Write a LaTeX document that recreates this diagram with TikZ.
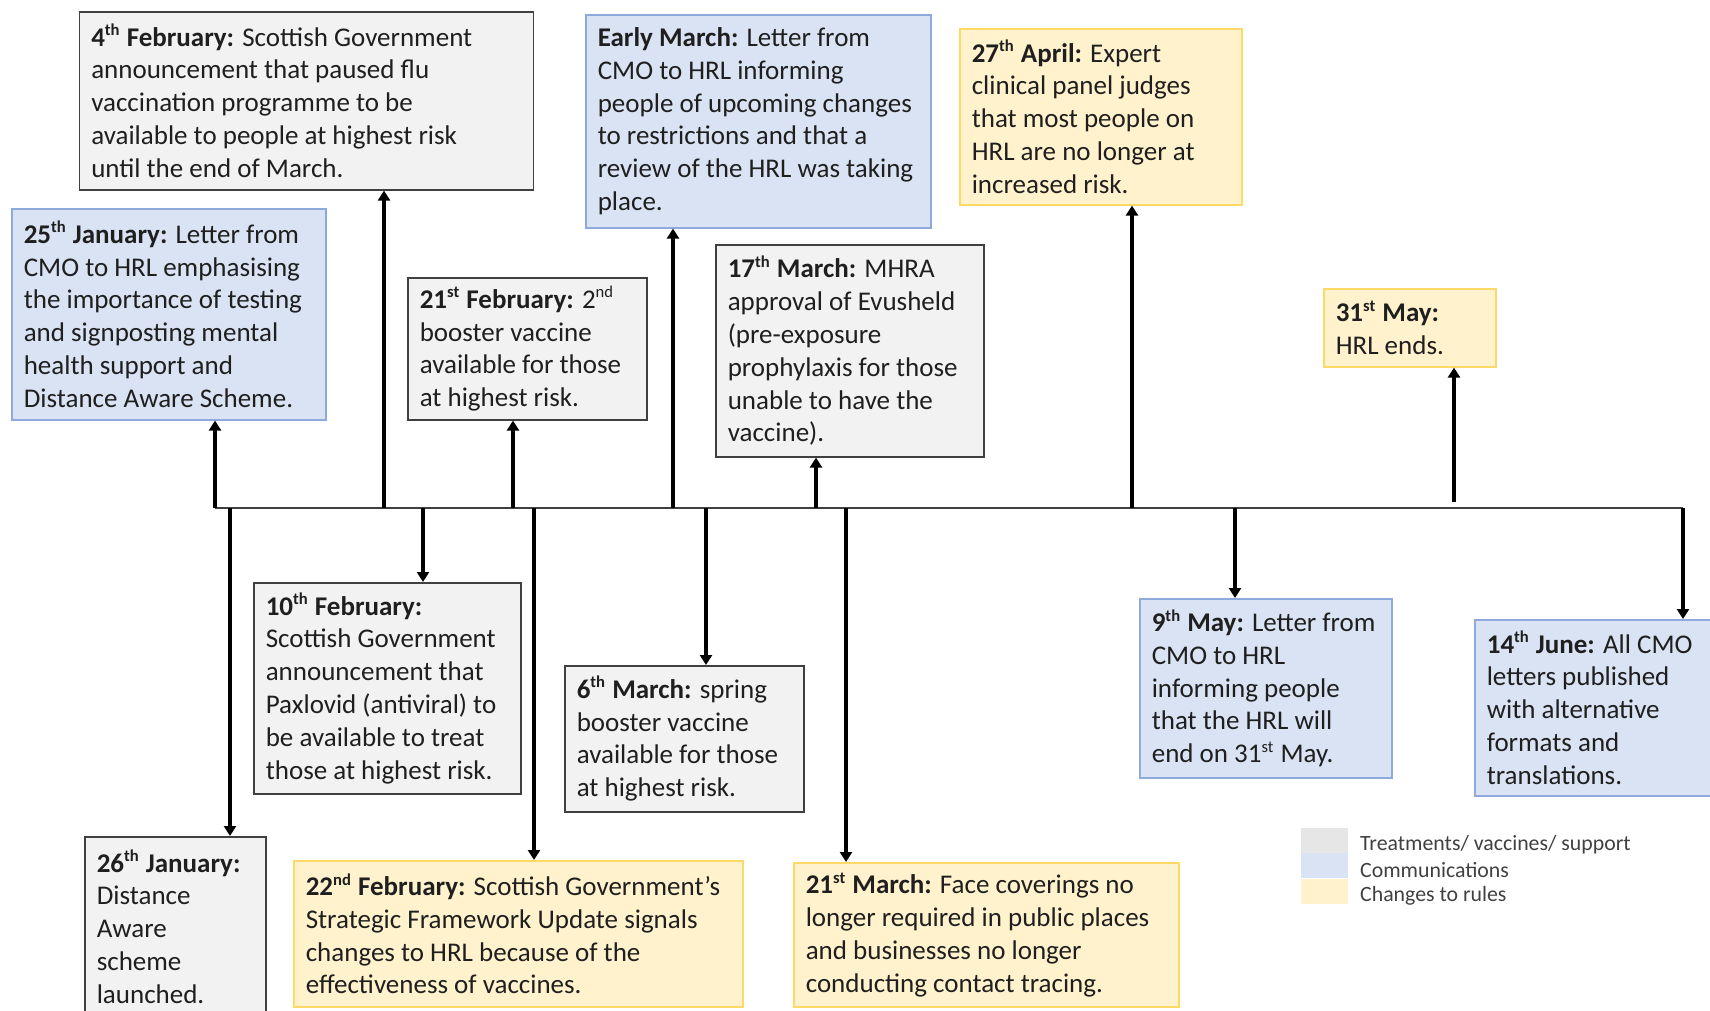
\documentclass[tikz,border=0pt]{standalone}
\usepackage{fontspec}
\setmainfont{Carlito}
\usetikzlibrary{arrows.meta,positioning}
\definecolor{greyfill}{HTML}{F2F2F2}
\definecolor{greyline}{HTML}{404040}
\definecolor{bluefill}{HTML}{DAE3F3}
\definecolor{blueline}{HTML}{8EA9DB}
\definecolor{yellowfill}{HTML}{FFF2CC}
\definecolor{yellowline}{HTML}{FFD966}
\definecolor{legendgrey}{HTML}{E7E6E6}
\definecolor{legendtext}{HTML}{404040}
\newcommand{\sups}[1]{\textsuperscript{\fontsize{8.3}{8.3}\selectfont #1}}

\begin{document}
\begin{tikzpicture}[x=0.5pt,y=-0.5pt,
    event/.style={anchor=north west, align=flush left, inner xsep=6pt, inner ysep=3pt, font=\fontsize{13.5}{16.4}\selectfont, text=black!88},
    treat/.style={event, draw=greyline, fill=greyfill, line width=0.8pt},
    comms/.style={event, draw=blueline, fill=bluefill, line width=0.8pt},
    rules/.style={event, draw=yellowline, fill=yellowfill, line width=0.8pt},
    evarrow/.style={line width=1.6pt, -{Triangle[length=5pt,width=6pt]}},
    swatch/.style={anchor=north west, minimum width=23.5pt, minimum height=12.5pt, inner sep=0pt},
    key/.style={font=\fontsize{10.9}{13}\selectfont, text=legendtext, inner sep=0pt, yshift=-2pt}]
    \useasboundingbox (0,0) rectangle (1710,1011);

% above the line
\node[comms, text width=145pt, minimum height=105.5pt] (jan25) at (11,208) {\textbf{25\sups{th} January:} Letter from\\CMO to HRL emphasising\\the importance of testing\\and signposting mental\\health support and\\Distance Aware Scheme.};
\node[treat, text width=215pt, minimum height=89pt] (feb4) at (78.5,11) {\textbf{4\sups{th} February:} Scottish Government\\announcement that paused flu\\vaccination programme to be\\available to people at highest risk\\until the end of March.};
\node[treat, text width=107.5pt, minimum height=71pt] (feb21) at (407,277) {\textbf{21\sups{st} February:} 2\sups{nd}\\booster vaccine\\available for those\\at highest risk.};
\node[comms, text width=160.5pt, minimum height=106.5pt] (earlymar) at (585,14) {\textbf{Early March:} Letter from\\CMO to HRL informing\\people of upcoming changes\\to restrictions and that a\\review of the HRL was taking\\place.};
\node[treat, text width=122pt, minimum height=106pt] (mar17) at (715,244) {\textbf{17\sups{th} March:} MHRA\\approval of Evusheld\\(pre-exposure\\prophylaxis for those\\unable to have the\\vaccine).};
\node[rules, text width=129pt, minimum height=88pt] (apr27) at (959,28) {\textbf{27\sups{th} April:} Expert\\clinical panel judges\\that most people on\\HRL are no longer at\\increased risk.};
\node[rules, text width=74pt, minimum height=39pt] (may31) at (1323,288) {\textbf{31\sups{st} May:}\\HRL ends.};

% below the line
\node[treat, text width=78.5pt, minimum height=90pt] (jan26) at (84,836) {\textbf{26\sups{th} January:}\\Distance\\Aware\\scheme\\launched.};
\node[treat, text width=121.5pt, minimum height=105.5pt] (feb10) at (253,582) {\textbf{10\sups{th} February:}\\Scottish Government\\announcement that\\Paxlovid (antiviral) to\\be available to treat\\those at highest risk.};
\node[rules, text width=212.5pt, minimum height=73pt] (feb22) at (293,860) {\textbf{22\sups{nd} February:} Scottish Government's\\Strategic Framework Update signals\\changes to HRL because of the\\effectiveness of vaccines.};
\node[treat, text width=107.5pt, minimum height=73pt] (mar6) at (564,665) {\textbf{6\sups{th} March:} spring\\booster vaccine\\available for those\\at highest risk.};
\node[rules, text width=180.5pt, minimum height=72pt] (mar21) at (793,862) {\textbf{21\sups{st} March:} Face coverings no\\longer required in public places\\and businesses no longer\\conducting contact tracing.};
\node[comms, text width=114pt, minimum height=89.5pt] (may9) at (1139,598) {\textbf{9\sups{th} May:} Letter from\\CMO to HRL\\informing people\\that the HRL will\\end on 31\sups{st} May.};
\node[comms, text width=108pt, minimum height=88pt] (jun14) at (1474,619) {\textbf{14\sups{th} June:} All CMO\\letters published\\with alternative\\formats and\\translations.};

% timeline
\coordinate (tl) at (215,508);
\coordinate (tr) at (1683,508);
\draw[greyline, line width=0.9pt] (tl) -- (tr);

\coordinate (t-jan25) at (215,508);
\coordinate (t-feb4) at (384,508);
\coordinate (t-feb21) at (513,508);
\coordinate (t-earlymar) at (673,508);
\coordinate (t-mar17) at (816,508);
\coordinate (t-apr27) at (1132,508);
\coordinate (t-may31) at (1454,502);
\coordinate (t-jan26) at (230,508);
\coordinate (t-feb10) at (423,508);
\coordinate (t-feb22) at (534,508);
\coordinate (t-mar6) at (706,508);
\coordinate (t-mar21) at (846,508);
\coordinate (t-may9) at (1235,508);
\coordinate (t-jun14) at (1683,508);

\draw[evarrow] (t-jan25) -- (t-jan25 |- jan25.south);
\draw[evarrow] (t-feb4) -- (t-feb4 |- feb4.south);
\draw[evarrow] (t-feb21) -- (t-feb21 |- feb21.south);
\draw[evarrow] (t-earlymar) -- (t-earlymar |- earlymar.south);
\draw[evarrow] (t-mar17) -- (t-mar17 |- mar17.south);
\draw[evarrow] (t-apr27) -- (t-apr27 |- apr27.south);
\draw[evarrow] (t-may31) -- (t-may31 |- may31.south);

\draw[evarrow] (t-jan26) -- (t-jan26 |- jan26.north);
\draw[evarrow] (t-feb10) -- (t-feb10 |- feb10.north);
\draw[evarrow] (t-feb22) -- (t-feb22 |- feb22.north);
\draw[evarrow] (t-mar6) -- (t-mar6 |- mar6.north);
\draw[evarrow] (t-mar21) -- (t-mar21 |- mar21.north);
\draw[evarrow] (t-may9) -- (t-may9 |- may9.north);
\draw[evarrow] (t-jun14) -- (t-jun14 |- jun14.north);

% key
\node[swatch, fill=legendgrey] (sw-treat) at (1301,828) {};
\node[swatch, fill=bluefill] (sw-comms) at (1301,853) {};
\node[swatch, fill=yellowfill] (sw-rules) at (1301,879) {};
\node[key, right=5.5pt of sw-treat] (k-treat) {Treatments/ vaccines/ support};
\node[key, right=5.5pt of sw-comms] (k-comms) {Communications};
\node[key, right=5.5pt of sw-rules] (k-rules) {Changes to rules};

\end{tikzpicture}
\end{document}
